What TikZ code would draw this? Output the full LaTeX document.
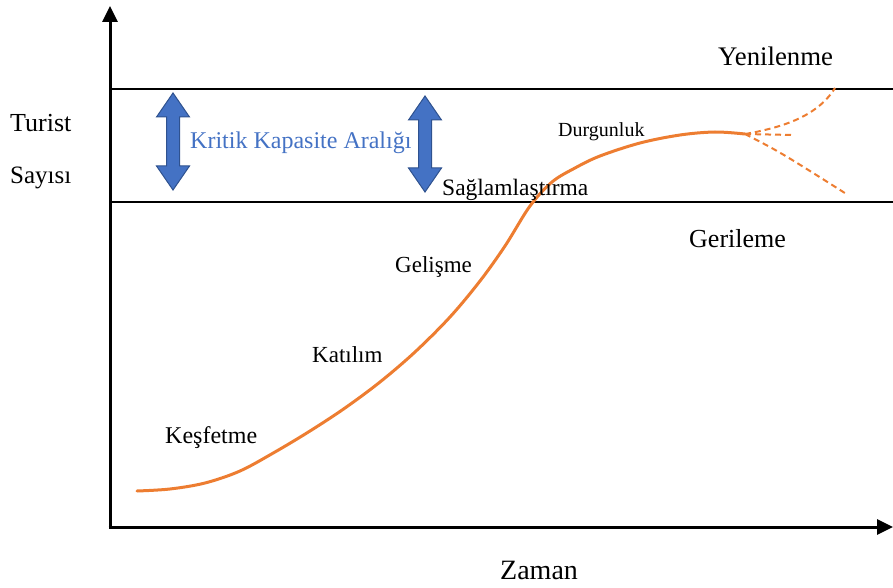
\documentclass[tikz,border=0pt]{standalone}
\usepackage{fontspec}
\setmainfont{Liberation Serif}
\usetikzlibrary{arrows.meta}
\definecolor{curveorange}{HTML}{ED7D31}
\definecolor{arrowblue}{HTML}{4472C4}
\definecolor{arrowedge}{HTML}{2F528F}
\newcommand\bluedbl[3]{%
  \filldraw[dblarrowstyle] (#1,#2) -- ({#1+16.5},{#2+24}) -- ({#1+6.5},{#2+24})
   -- ({#1+6.5},{#3-24}) -- ({#1+16.5},{#3-24}) -- (#1,#3)
   -- ({#1-16.5},{#3-24}) -- ({#1-6.5},{#3-24}) -- ({#1-6.5},{#2+24})
   -- ({#1-16.5},{#2+24}) -- cycle;}
\tikzset{
  dblarrowstyle/.style={fill=arrowblue, draw=arrowedge, line width=1pt, line join=miter},
  axisline/.style={line width=3pt, -{Triangle[length=16pt,width=15pt]}},
  bandline/.style={line width=1.2pt},
  lbl/.style={anchor=base west, inner sep=0pt, font=\fontsize{23}{27}\selectfont},
  biglbl/.style={anchor=base west, inner sep=0pt, font=\fontsize{26}{30}\selectfont},
  lifecurve/.style={curveorange, line width=3pt, line cap=round},
  branch/.style={curveorange, line width=2pt, dash pattern=on 6pt off 4pt}
}
\begin{document}
\begin{tikzpicture}[x=1pt,y=-1pt]
\useasboundingbox (0,0) rectangle (893,588);
% axes
\coordinate (origin) at (110,527);
\coordinate (ytip) at (110,6);
\coordinate (xtip) at (893,527);
\draw[axisline] ([yshift=-1.5pt]origin) -- (ytip);
\draw[axisline] ([xshift=-1.5pt]origin) -- (xtip);
% band lines
\coordinate (bandTL) at (110,89);
\coordinate (bandTR) at (893,89);
\coordinate (bandBL) at (110,202);
\coordinate (bandBR) at (893,202);
\draw[bandline] (bandTL) -- (bandTR);
\draw[bandline] (bandBL) -- (bandBR);
% blue arrows
\bluedbl{173}{93}{190}
\bluedbl{425}{96}{192}
% curve
\coordinate (split) at (745,134);
\draw[lifecurve] plot[smooth, tension=0.55] coordinates {(137,491) (170,489) (205,483) (240,471) (275,452) (310,431) (345,408) (380,382) (415,352) (450,317) (480,281) (505,246) (530,206) (552,182) (575,168) (600,156) (640,143) (680,135) (715,132) (745,134)};
\coordinate (upEnd) at (835,88);
\coordinate (midEnd) at (792,135);
\coordinate (lowEnd) at (848,195);
\draw[branch] (split) .. controls (792,126) and (820,112) .. (upEnd);
\draw[branch] (split) -- (midEnd);
\draw[branch] (split) .. controls (780,152) .. (lowEnd);
% labels
\node[lbl, font=\fontsize{26}{30}\selectfont] (turist) at (10,132) {Turist};
\node[lbl, font=\fontsize{25}{29}\selectfont] (sayisi) at (10,183) {Sayısı};
\node[biglbl, font=\fontsize{26.8}{30}\selectfont] (yeni) at (718,66) {Yenilenme};
\node[lbl, font=\fontsize{20}{24}\selectfont] (durg) at (558,137) {Durgunluk};
\node[lbl, font=\fontsize{23.5}{27}\selectfont] (sagl) at (442,195) {Sağlamlaştırma};
\node[biglbl] (geri) at (689,247) {Gerileme};
\node[lbl] (geli) at (395,272) {Gelişme};
\node[lbl] (kati) at (312,362) {Katılım};
\node[lbl, font=\fontsize{24}{28}\selectfont] (kesf) at (165,443) {Keşfetme};
\node[lbl, font=\fontsize{28}{32}\selectfont] (zaman) at (500,579) {Zaman};
\node[lbl, text=arrowblue, font=\fontsize{24}{28}\selectfont] (kritik) at (190,149) {Kritik Kapasite Aralığı};
\end{tikzpicture}
\end{document}
